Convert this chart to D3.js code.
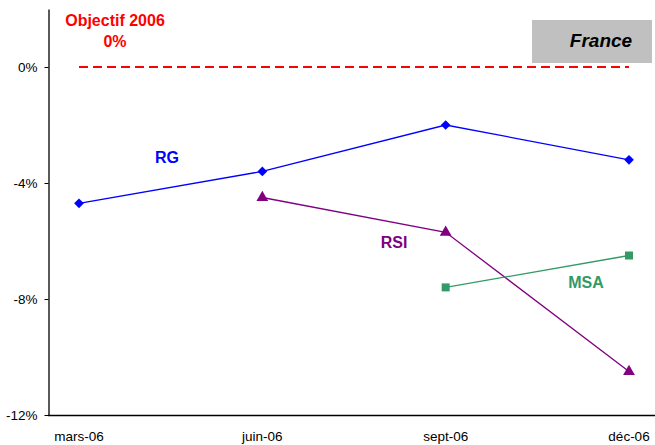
<!DOCTYPE html>
<html>
<head>
<meta charset="utf-8">
<script src="https://d3js.org/d3.v7.min.js"></script>
<style>
  body { margin: 0; background: #fff; }
  text { font-family: "Liberation Sans", Arial, sans-serif; }
</style>
</head>
<body>
<svg id="chart" width="655" height="445"></svg>
<script>
// categories and series (percent)
const months = ["mars-06", "juin-06", "sept-06", "déc-06"];
const rg  = [-4.7, -3.6, -2.0, -3.2];
const rsi = [null, -4.5, -5.7, -10.5];
const msa = [null, null, -7.6, -6.5];
const objectif = [0, 0, 0, 0];
const yTicks = [0, -4, -8, -12];

const svg = d3.select("#chart");

const x = d3.scalePoint().domain(months).range([79, 629]);
const y = d3.scaleLinear().domain([-12, 2]).range([415, 9]);

// y axis
const yAxis = svg.append("g")
  .attr("transform", "translate(48.5,0)")
  .call(d3.axisLeft(y).tickValues(yTicks).tickSize(4).tickSizeOuter(0)
    .tickFormat(d => d + "%"));
yAxis.select(".domain").attr("stroke", "#000").attr("stroke-width", 1.3);
yAxis.selectAll(".tick line").attr("stroke", "#000");
yAxis.selectAll("text").attr("font-size", 13.5).attr("fill", "#000")
  .attr("font-family", "Liberation Sans, Arial, sans-serif").attr("x", -11);

// x axis
svg.append("line").attr("x1", 48).attr("x2", 655)
  .attr("y1", 415.5).attr("y2", 415.5).attr("stroke", "#000").attr("stroke-width", 1.3);
svg.append("g").selectAll("text").data(months).join("text")
  .attr("x", d => x(d)).attr("y", 441)
  .attr("text-anchor", "middle").attr("font-size", 13.5).text(d => d);

// objective line
const line = d3.line().defined(d => d.v != null).x(d => x(d.m)).y(d => y(d.v));
const pts = arr => months.map((m, i) => ({ m, v: arr[i] }));

svg.append("path").datum(pts(objectif)).attr("d", line)
  .attr("fill", "none").attr("stroke", "#FF0000").attr("stroke-width", 2)
  .attr("stroke-dasharray", "9,5");

// France box
svg.append("rect").attr("x", 532).attr("y", 20).attr("width", 120).attr("height", 43)
  .attr("fill", "#C0C0C0");
svg.append("text").attr("x", 601).attr("y", 47).attr("text-anchor", "middle")
  .attr("font-size", 19).attr("font-weight", "bold").attr("font-style", "italic")
  .text("France");

// objective label
svg.append("text").attr("x", 115).attr("y", 26).attr("text-anchor", "middle")
  .attr("font-size", 16).attr("font-weight", "bold").attr("fill", "#FF0000")
  .text("Objectif 2006");
svg.append("text").attr("x", 115).attr("y", 47).attr("text-anchor", "middle")
  .attr("font-size", 16).attr("font-weight", "bold").attr("fill", "#FF0000")
  .text("0%");

const series = [
  { name: "RG",  data: rg,  color: "#0000FF", sym: d3.symbolDiamond2, size: 60, lx: 167, ly: 163 },
  { name: "RSI", data: rsi, color: "#800080", sym: d3.symbolTriangle, size: 60, lx: 394, ly: 248 },
  { name: "MSA", data: msa, color: "#339966", sym: d3.symbolSquare,   size: 64, lx: 586, ly: 288 }
];

series.forEach(s => {
  const p = pts(s.data);
  svg.append("path").datum(p).attr("d", line)
    .attr("fill", "none").attr("stroke", s.color).attr("stroke-width", 1.3);
  svg.append("g").selectAll("path").data(p.filter(d => d.v != null)).join("path")
    .attr("transform", d => `translate(${x(d.m)},${y(d.v)})`)
    .attr("d", d3.symbol().type(s.sym).size(s.size))
    .attr("fill", s.color);
  svg.append("text").attr("x", s.lx).attr("y", s.ly).attr("text-anchor", "middle")
    .attr("font-size", 16).attr("font-weight", "bold").attr("fill", s.color)
    .text(s.name);
});
</script>
</body>
</html>
